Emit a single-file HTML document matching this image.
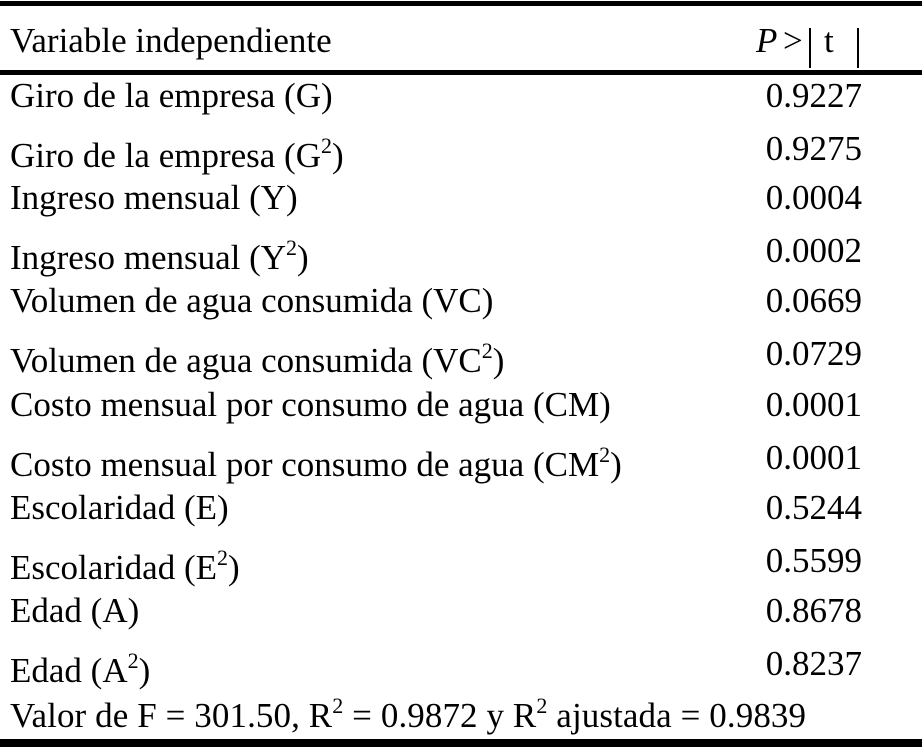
<!DOCTYPE html>
<html><head><meta charset="utf-8">
<style>
html,body{margin:0;padding:0;background:#fff;}
svg{display:block;}
text{font-family:"Liberation Serif",serif;font-size:35px;fill:#000;}
</style></head>
<body>
<svg width="922" height="748" viewBox="0 0 922 748">
<rect x="0" y="1" width="922" height="5" fill="#000"/>
<rect x="0" y="70" width="922" height="5" fill="#000"/>
<rect x="0" y="739" width="922" height="8" fill="#000"/>
<g>
<text x="10" y="52">Variable independiente</text>
<text x="756" y="52" font-style="italic">P</text>
<text x="783" y="52">&gt;</text>
<rect x="809" y="28" width="2" height="40" fill="#000"/>
<text x="824" y="52">t</text>
<rect x="857" y="28" width="2" height="40" fill="#000"/>
</g>
<g id="body"></g>
<text x="10" y="727" textLength="796">Valor de F = 301.50, R<tspan dy="-14" font-size="22">2</tspan><tspan dy="14"> = 0.9872 y R</tspan><tspan dy="-14" font-size="22">2</tspan><tspan dy="14"> ajustada = 0.9839</tspan></text>
</svg>
<script>
const labels = ["Giro de la empresa (G","Ingreso mensual (Y","Volumen de agua consumida (VC","Costo mensual por consumo de agua (CM","Escolaridad (E","Edad (A"];
const pLinear = ["0.9227","0.0004","0.0669","0.0001","0.5244","0.8678"];
const pSquared = ["0.9275","0.0002","0.0729","0.0001","0.5599","0.8237"];
const NS="http://www.w3.org/2000/svg";
const body=document.getElementById('body');
function txt(x,y,anchor){const t=document.createElementNS(NS,'text');t.setAttribute('x',x);t.setAttribute('y',y);if(anchor)t.setAttribute('text-anchor',anchor);body.appendChild(t);return t;}
const base=[107,209,312,416,519,622];
labels.forEach((lab,i)=>{
  const y=base[i];
  const a=txt(10,y);a.textContent=lab+")";
  
  
  const b=txt(862,y,'end');b.textContent=pLinear[i];
  
  
  const y2=y+53;
  const c=txt(10,y2+7);
  
  
  c.innerHTML=lab+'<tspan dy="-14" font-size="22">2</tspan><tspan dy="14">)</tspan>';
  const d=txt(862,y2,'end');d.textContent=pSquared[i];
  
  
});
</script>
</body></html>
